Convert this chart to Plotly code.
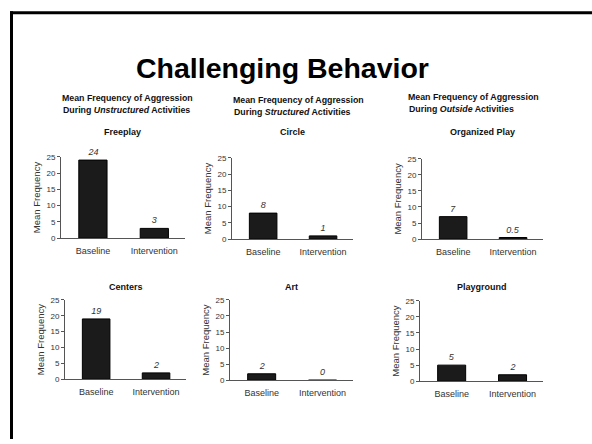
import plotly.graph_objects as go

# ---- data ----
categories = ["Baseline", "Intervention"]
panel_titles = ["Freeplay", "Circle", "Organized Play", "Centers", "Art", "Playground"]
baseline_values = [24, 8, 7, 19, 2, 5]
intervention_values = [3, 1, 0.5, 2, 0, 2]
y_tick_values = [0, 5, 10, 15, 20, 25]
header_line1 = ["Mean Frequency of Aggression", "Mean Frequency of Aggression", "Mean Frequency of Aggression"]
header_line2 = ["During <i>Unstructured</i> Activities", "During <i>Structured</i> Activities", "During <i>Outside</i> Activities"]
main_title = "Challenging Behavior"
y_title = "Mean Frequency"

# ---- layout helpers (pixel geometry) ----
W, H = 592, 444
FONT = "Liberation Sans, Arial, Helvetica, sans-serif"
# (left, right, top, bottom) of each plot area in pixels
boxes = [
    (61, 185, 156, 239),
    (232, 353, 157, 240),
    (422, 543, 158, 240),
    (65, 186, 302, 383),
    (230, 353, 302, 384),
    (420, 543, 303, 385),
]

def px(x):
    return x / W

def py(y):
    return 1 - y / H

fig = go.Figure()
layout = dict(
    width=W, height=H,
    margin=dict(l=0, r=0, t=0, b=0),
    paper_bgcolor="white", plot_bgcolor="white",
    showlegend=False,
    font=dict(family=FONT, color="#222"),
    annotations=[], shapes=[],
)

for i, title in enumerate(panel_titles):
    n = "" if i == 0 else str(i + 1)
    vals = [baseline_values[i], intervention_values[i]]
    fig.add_trace(go.Bar(
        x=[0, 1], y=vals,
        width=0.46,
        marker=dict(color="#1b1b1b", line=dict(color="#000", width=1)),
        text=[f"{v:g}" for v in vals],
        textposition="outside",
        textfont=dict(size=9, color="#333", style="italic", family=FONT),
        cliponaxis=False,
        xaxis="x" + n, yaxis="y" + n,
        hoverinfo="skip",
    ))
    l, r, t, b = boxes[i]
    layout["xaxis" + n] = dict(
        domain=[px(l), px(r)], anchor="y" + n,
        range=[-0.52, 1.5], tickvals=[0, 1], ticktext=categories,
        showline=True, linecolor="#555", linewidth=1,
        ticks="", showgrid=False, zeroline=False,
        ticklabelstandoff=4,
        tickfont=dict(size=9, color="#333"),
    )
    layout["yaxis" + n] = dict(
        domain=[py(b), py(t)], anchor="x" + n,
        range=[0, 25], tickvals=y_tick_values,
        showline=True, linecolor="#555", linewidth=1,
        ticks="outside", ticklen=3, tickcolor="#555",
        showgrid=False, zeroline=False,
        tickfont=dict(size=8, color="#333"),
        title=dict(text=y_title, font=dict(size=9.5, color="#333"), standoff=4),
    )
    ty = 131 if i < 3 else 289
    layout["annotations"].append(dict(
        text=f"<b>{title}</b>", x=px((l + r) / 2), y=py(ty), xref="paper", yref="paper",
        xanchor="center", yanchor="middle", showarrow=False,
        font=dict(size=9, color="#111"),
    ))

# column headers
header_left = [60, 231, 406]
header_y = [(96, 108), (98, 110), (95, 107)]
for j in range(3):
    for line, yy, dx in ((header_line1[j], header_y[j][0], 0), (header_line2[j], header_y[j][1], 1)):
        layout["annotations"].append(dict(
            text=f"<b>{line}</b>", x=px(header_left[j] + dx), y=py(yy),
            xref="paper", yref="paper", xanchor="left", yanchor="middle",
            showarrow=False, font=dict(size=8.8, color="#111"),
        ))

# main title
layout["annotations"].append(dict(
    text=f"<b>{main_title}</b>", x=px(282), y=py(65), xref="paper", yref="paper",
    xanchor="center", yanchor="middle", showarrow=False,
    font=dict(size=28.5, color="#000"),
))

# slide frame (top and left edges)
layout["shapes"] += [
    dict(type="line", xref="paper", yref="paper", x0=px(10), x1=1.0, y0=py(9), y1=py(9),
         line=dict(color="#000", width=3)),
    dict(type="line", xref="paper", yref="paper", x0=px(11.5), x1=px(11.5), y0=py(7.5), y1=0,
         line=dict(color="#000", width=3)),
]

fig.update_layout(**layout)
fig.write_html("out.html", config={"displayModeBar": False},
               post_script="document.body.style.margin='0';")
